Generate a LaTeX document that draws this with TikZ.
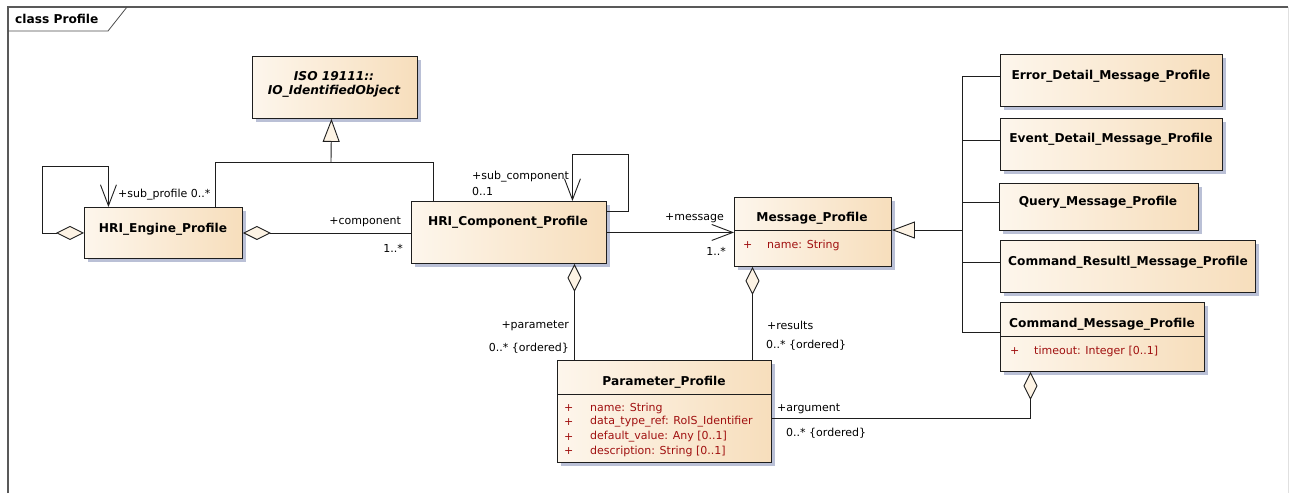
\documentclass[tikz,border=0pt]{standalone}
\usepackage{fontspec}
\setmainfont{DejaVu Sans}
\usetikzlibrary{arrows.meta,shadows}
\definecolor{boxL}{RGB}{253,246,236}
\definecolor{boxR}{RGB}{247,222,188}
\definecolor{shad}{RGB}{186,192,214}
\definecolor{attr}{RGB}{160,16,16}
\definecolor{lnc}{RGB}{30,30,30}
\definecolor{diamc}{RGB}{253,243,228}
\tikzset{
  umlbox/.style={draw=lnc, line width=0.9pt, left color=boxL, right color=boxR,
    anchor=north west, inner sep=0pt,
    drop shadow={shadow xshift=4pt, shadow yshift=-4pt, fill=shad, opacity=1}},
  title/.style={font=\fontsize{12.2}{14}\selectfont\bfseries, inner sep=0pt},
  ititle/.style={font=\fontsize{12.2}{14}\selectfont\bfseries\itshape, inner sep=0pt},
  lab/.style={font=\fontsize{11}{13}\selectfont, inner sep=0pt},
  attrtxt/.style={font=\fontsize{11}{13}\selectfont, text=attr, inner sep=0pt, anchor=west},
  conn/.style={draw=lnc, line width=0.9pt},
  diam/.tip={Diamond[length=28pt,width=14pt,fill=diamc,line width=0.9pt]},
  barb/.tip={Straight Barb[length=21pt,width=16pt,line width=0.9pt]},
  tri/.tip={Triangle[length=23pt,width=17pt,fill=diamc,line width=0.9pt]},
}
\begin{document}
\begin{tikzpicture}[x=1pt,y=-1pt]
\useasboundingbox (0,0) rectangle (1289,493);
% frame
\draw[draw=black!65, line width=1.2pt] (8,493) -- (8,7) -- (1288,7);
\draw[draw=black!12, line width=0.8pt] (1288,7) -- (1288,493);
\draw[draw=black!70, line width=0.8pt] (8,31) -- (108,31) -- (127,7);
\node[title, anchor=west] (frametitle) at (15,19) {class Profile};

% boxes
\node[umlbox, minimum width=165pt, minimum height=62pt] (iso) at (252,56) {};
\node[umlbox, minimum width=158pt, minimum height=51pt] (eng) at (84,207) {};
\node[umlbox, minimum width=195pt, minimum height=62pt] (comp) at (411,201) {};
\node[umlbox, minimum width=157pt, minimum height=69pt] (msg) at (734,197) {};
\node[umlbox, minimum width=214pt, minimum height=102pt] (param) at (557,360) {};
\node[umlbox, minimum width=222pt, minimum height=52pt] (err) at (1000,54) {};
\node[umlbox, minimum width=222pt, minimum height=52pt] (evt) at (1000,118) {};
\node[umlbox, minimum width=199pt, minimum height=47pt] (qry) at (999,183) {};
\node[umlbox, minimum width=255pt, minimum height=52pt] (cres) at (1000,240) {};
\node[umlbox, minimum width=204pt, minimum height=69pt] (cmsg) at (1000,302) {};

% compartment separators
\draw[conn] ([yshift=-33pt]msg.north west) -- ([yshift=-33pt]msg.north east);
\draw[conn] ([yshift=-34pt]param.north west) -- ([yshift=-34pt]param.north east);
\draw[conn] ([yshift=-34pt]cmsg.north west) -- ([yshift=-34pt]cmsg.north east);

% titles
\node[ititle] (isot1) at (334,76) {ISO 19111::};
\node[ititle] (isot2) at (334,91) {IO\_IdentifiedObject};
\node[title] (engt) at (163,229) {HRI\_Engine\_Profile};
\node[title] (compt) at (508,222) {HRI\_Component\_Profile};
\node[title] (msgt) at (812,218) {Message\_Profile};
\node[title] (paramt) at (664,382) {Parameter\_Profile};
\node[title] (errt) at (1111,76) {Error\_Detail\_Message\_Profile};
\node[title] (evtt) at (1111,139) {Event\_Detail\_Message\_Profile};
\node[title] (qryt) at (1098,202) {Query\_Message\_Profile};
\node[title] (crest) at (1128,262) {Command\_Resultl\_Message\_Profile};
\node[title] (cmsgt) at (1102,324) {Command\_Message\_Profile};

% attributes
\node[attrtxt] (ma1) at (743,245) {+};
\node[attrtxt] (ma2) at (767,245) {name: String};
\node[attrtxt] (pa1) at (564,408) {+};
\node[attrtxt] (pa2) at (590,408) {name: String};
\node[attrtxt] (pb1) at (564,422) {+};
\node[attrtxt] (pb2) at (590,422) {data\_type\_ref: RoIS\_Identifier};
\node[attrtxt] (pc1) at (564,437) {+};
\node[attrtxt] (pc2) at (590,437) {default\_value: Any [0..1]};
\node[attrtxt] (pd1) at (564,451) {+};
\node[attrtxt] (pd2) at (590,451) {description: String [0..1]};
\node[attrtxt] (ca1) at (1010,351) {+};
\node[attrtxt] (ca2) at (1034,351) {timeout: Integer [0..1]};

% generalization to ISO
\coordinate (gj) at (331,162);
\draw[conn] ([xshift=52pt]eng.north) |- (gj);
\draw[conn] ([xshift=-75.5pt]comp.north) |- (gj);
\draw[conn, -tri] (gj) -- ([xshift=-3.5pt]iso.south);

% engine self association
\draw[conn, diam-barb] (eng.west) -- ++(-42,0) -- ++(0,-67) -| ([xshift=-55pt]eng.north);
\node[lab, anchor=west] (l1) at (118,195) {+sub\_profile 0..*};

% engine - component
\draw[conn, diam-] (eng.east) -- (eng.east -| comp.west);
\node[lab, anchor=east] (l2) at (401,222) {+component};
\node[lab, anchor=east] (l3) at (403,248) {1..*};

% component self association
\draw[conn, -barb] ([yshift=21pt]comp.east) -- ++(22,0) -- ++(0,-57) -| ([xshift=63.5pt]comp.north);
\node[lab, anchor=west] (l4) at (472,177) {+sub\_component};
\node[lab, anchor=west] (l5) at (472,191) {0..1};

% component - message
\draw[conn, -barb] (comp.east) -- (comp.east -| msg.west);
\node[lab, anchor=west] (l6) at (665,218) {+message};
\node[lab, anchor=east] (l7) at (726,251) {1..*};

% component - parameter
\draw[conn, diam-] ([xshift=65.5pt]comp.south) -- ([xshift=65.5pt]comp.south |- param.north);
\node[lab, anchor=east] (l8) at (569,326) {+parameter};
\node[lab, anchor=east] (l9) at (569,348) {0..* \{ordered\}};

% message - parameter
\draw[conn, diam-] ([xshift=-60.5pt]msg.south) -- ([xshift=-60.5pt]msg.south |- param.north);
\node[lab, anchor=west] (l10) at (767,325) {+results};
\node[lab, anchor=west] (l11) at (766,345) {0..* \{ordered\}};

% command message - parameter
\draw[conn, diam-] ([xshift=-72pt]cmsg.south) |- ([yshift=-7pt]param.east);
\node[lab, anchor=west] (l12) at (777,409) {+argument};
\node[lab, anchor=west] (l13) at (786,433) {0..* \{ordered\}};

% message generalizations
\coordinate (bus) at (962,230);
\draw[conn] ([yshift=4.5pt]err.west) -| (bus) |- ([yshift=4.5pt]cmsg.west);
\draw[conn] ([yshift=4.5pt]evt.west) -- ++(-38,0);
\draw[conn] ([yshift=4.5pt]qry.west) -- ++(-37,0);
\draw[conn] ([yshift=4.5pt]cres.west) -- ++(-38,0);
\draw[conn, -tri] (bus) -- (bus -| msg.east);
\end{tikzpicture}
\end{document}
